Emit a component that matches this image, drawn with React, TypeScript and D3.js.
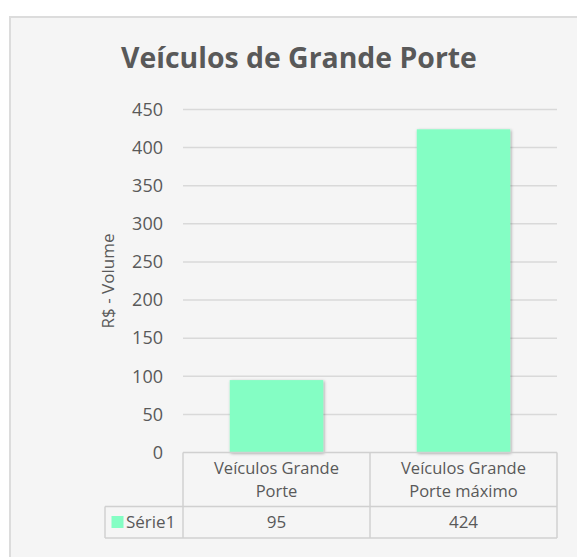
import React from 'react';
import * as d3 from 'd3';

const categories = ['Veículos Grande Porte', 'Veículos Grande Porte máximo'];
const categoryLines = [
  ['Veículos Grande', 'Porte'],
  ['Veículos Grande', 'Porte máximo'],
];
const serie1 = [95, 424];
const seriesName = 'Série1';
const yTicks = [0, 50, 100, 150, 200, 250, 300, 350, 400, 450];
const title = 'Veículos de Grande Porte';
const yTitle = 'R$ - Volume';

const W = 577;
const H = 557;
const FONT = '"Open Sans", Lato, sans-serif';
const TEXT = '#595959';
const GRID = '#d9d9d9';
const BAR = '#84fec4';

export default function App() {
  const plotLeft = 183;
  const plotRight = 557;
  const plotTop = 109.5;
  const plotBottom = 452.5;
  const headerBottom = 506.5;
  const tableBottom = 538;
  const legendLeft = 105;

  const x = d3.scaleBand<string>().domain(categories).range([plotLeft, plotRight]).padding(0);
  const y = d3.scaleLinear().domain([0, 450]).range([plotBottom, plotTop]);
  const barW = x.bandwidth() * 0.5;

  const colEdges = [plotLeft, ...categories.map((c) => (x(c) as number) + x.bandwidth())];

  return (
    <svg
      width={W}
      height={H}
      style={{ position: 'absolute', left: 0, top: 0, display: 'block' }}
      fontFamily={FONT}
    >
      <defs>
        <filter id="shadow" x="-20%" y="-20%" width="140%" height="140%">
          <feDropShadow dx="1" dy="1" stdDeviation="1.6" floodColor="#000" floodOpacity="0.35" />
        </filter>
      </defs>
      <rect x={0} y={0} width={W} height={H} fill="#ffffff" />
      <rect x={10} y={17} width={W + 40} height={H + 40} fill="#f5f5f5" stroke="#dcdcdc" strokeWidth={2} />

      <text
        x={299}
        y={68}
        textAnchor="middle"
        fontSize={28.4}
        fontWeight="bold"
        fill={TEXT}
      >
        {title}
      </text>

      {yTicks.map((t) => (
        <g key={t}>
          {t > 0 && (
            <line x1={plotLeft} x2={plotRight} y1={y(t)} y2={y(t)} stroke={GRID} strokeWidth={1.5} />
          )}
          <text x={163} y={y(t)} dy="0.35em" textAnchor="end" fontSize={18} fill={TEXT}>
            {t}
          </text>
        </g>
      ))}

      <text
        transform={`translate(108,281) rotate(-90)`}
        textAnchor="middle"
        dy="0.35em"
        fontSize={17}
        fill={TEXT}
      >
        {yTitle}
      </text>

      {categories.map((c, i) => {
        const cx = (x(c) as number) + x.bandwidth() / 2;
        return (
          <rect
            key={c}
            x={cx - barW / 2}
            y={y(serie1[i])}
            width={barW}
            height={y(0) - y(serie1[i])}
            fill={BAR}
            filter="url(#shadow)"
          />
        );
      })}

      {/* data table */}
      <g stroke="#d0d0d0" strokeWidth={1.5} fill="none">
        <line x1={plotLeft} x2={plotRight} y1={plotBottom} y2={plotBottom} />
        <line x1={legendLeft} x2={plotRight} y1={headerBottom} y2={headerBottom} />
        <line x1={legendLeft} x2={plotRight} y1={tableBottom} y2={tableBottom} />
        <line x1={legendLeft} x2={legendLeft} y1={headerBottom} y2={tableBottom} />
        {colEdges.map((e, i) => (
          <line key={i} x1={e} x2={e} y1={plotBottom} y2={tableBottom} />
        ))}
      </g>

      {categories.map((c, i) => {
        const cx = (x(c) as number) + x.bandwidth() / 2;
        return (
          <g key={c} fill={TEXT} textAnchor="middle">
            <text x={cx} y={468} dy="0.35em" fontSize={16.5}>{categoryLines[i][0]}</text>
            <text x={cx} y={491.5} dy="0.35em" fontSize={16.5}>{categoryLines[i][1]}</text>
            <text x={cx} y={522} dy="0.35em" fontSize={17}>{serie1[i]}</text>
          </g>
        );
      })}

      <rect x={111.5} y={516} width={12} height={12} fill={BAR} />
      <text x={126} y={522} dy="0.35em" fontSize={17} fill={TEXT}>
        {seriesName}
      </text>
    </svg>
  );
}
